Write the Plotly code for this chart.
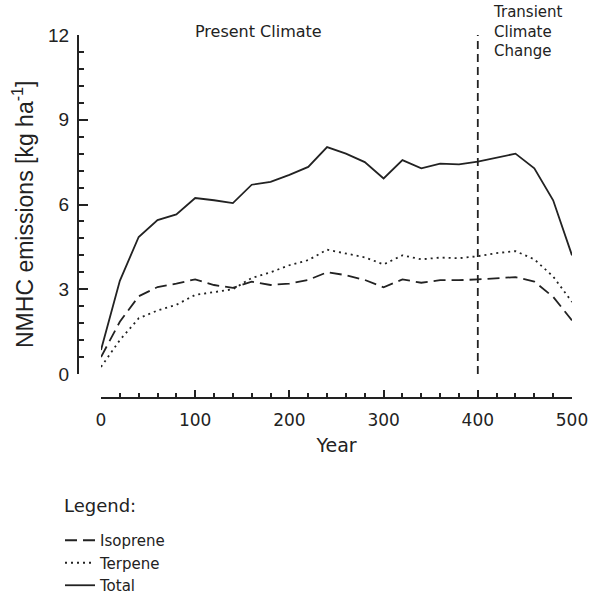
import plotly.graph_objects as go

years = list(range(0, 501, 20))
total = [0.85, 3.3, 4.85, 5.45, 5.65, 6.23, 6.15, 6.05, 6.7, 6.8, 7.05, 7.33, 8.03,
         7.8, 7.5, 6.92, 7.57, 7.28, 7.45, 7.42, 7.52, 7.67, 7.8, 7.28, 6.15, 4.2]
isoprene = [0.6, 1.85, 2.75, 3.08, 3.2, 3.35, 3.15, 3.05, 3.27, 3.15, 3.2, 3.33, 3.6,
            3.5, 3.33, 3.07, 3.35, 3.23, 3.32, 3.32, 3.35, 3.4, 3.43, 3.27, 2.73, 1.9]
terpene = [0.25, 1.2, 1.97, 2.25, 2.45, 2.8, 2.9, 3.0, 3.4, 3.6, 3.85, 4.03, 4.4,
           4.27, 4.13, 3.88, 4.2, 4.06, 4.12, 4.1, 4.17, 4.28, 4.35, 4.06, 3.45, 2.55]
divider_year = [400, 400]
divider_y = [0, 12]

INK = "#222222"
GEO = "DejaVu Sans"
HELV = "Liberation Sans"

fig = go.Figure()
fig.add_trace(go.Scatter(x=years, y=isoprene, mode="lines", name="Isoprene",
                         line=dict(color=INK, width=1.8, dash="12px,6px")))
fig.add_trace(go.Scatter(x=years, y=terpene, mode="lines", name="Terpene",
                         line=dict(color=INK, width=1.8, dash="2px,4px")))
fig.add_trace(go.Scatter(x=years, y=total, mode="lines", name="Total",
                         line=dict(color=INK, width=1.8)))
fig.add_trace(go.Scatter(x=divider_year, y=divider_y, mode="lines", showlegend=False,
                         line=dict(color=INK, width=1.8, dash="8px,5px")))

W, H = 597, 596
L, R, T, B = 78, 25, 35, 198
pw, ph = W - L - R, H - T - B


def px(x):
    return (x - L) / pw


def py(y):
    return (H - B - y) / ph


fig.update_layout(
    width=W, height=H,
    margin=dict(l=L, r=R, t=T, b=B, autoexpand=False),
    paper_bgcolor="white", plot_bgcolor="white",
    showlegend=True,
    legend=dict(x=px(60), y=py(524), xanchor="left", yanchor="top",
                font=dict(family=GEO, size=15, color=INK),
                bgcolor="rgba(0,0,0,0)", borderwidth=0, tracegroupgap=0),
    xaxis=dict(domain=[px(101), 1], range=[0, 500], anchor="free", position=0,
               showgrid=False, zeroline=False, showline=True, linecolor=INK, linewidth=2,
               ticks="inside", ticklen=7, tickwidth=1.5, tickcolor=INK, dtick=100,
               ticklabelstandoff=7,
               minor=dict(dtick=20, ticks="inside", ticklen=4, tickwidth=1.5, tickcolor=INK),
               tickfont=dict(family=GEO, size=17, color=INK),
               title=dict(text="Year", font=dict(family=GEO, size=19, color=INK), standoff=8)),
    yaxis=dict(domain=[py(374), 1], range=[0, 12], anchor="free", position=0,
               showgrid=False, zeroline=False, showline=True, linecolor=INK, linewidth=2,
               ticks="inside", ticklen=9, tickwidth=1.5, tickcolor=INK, dtick=3,
               ticklabelstandoff=4,
               minor=dict(dtick=0.6, ticks="inside", ticklen=5, tickwidth=1.5, tickcolor=INK),
               tickfont=dict(family=HELV, size=19, color=INK)),
)

ann = [
    dict(text="NMHC emissions [kg ha<sup>-1</sup>]", x=px(23), y=py(215), textangle=-90,
         font=dict(family=HELV, size=23, color=INK)),
    dict(text="Present Climate", x=px(258), y=py(31), font=dict(family=GEO, size=16, color=INK)),
    dict(text="Transient<br>Climate<br>Change", x=px(491), y=py(31), xanchor="left", align="left",
         font=dict(family=GEO, size=15, color=INK)),
    dict(text="Legend:", x=px(62), y=py(505), xanchor="left", font=dict(family=GEO, size=18, color=INK)),
]
for a in ann:
    a.setdefault("xanchor", "center")
    fig.add_annotation(xref="paper", yref="paper", showarrow=False, yanchor="middle", **a)

fig.write_html("out.html", config={"displayModeBar": False},
               post_script="document.body.style.margin='0';")
